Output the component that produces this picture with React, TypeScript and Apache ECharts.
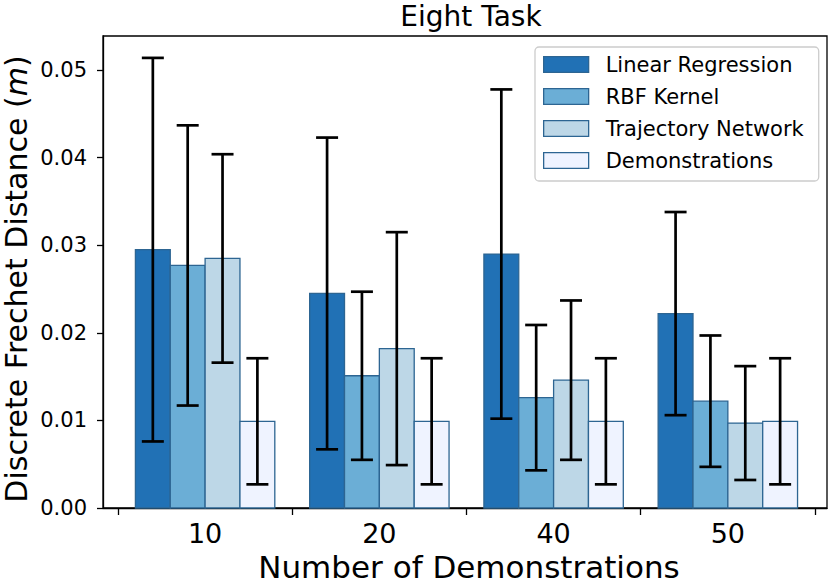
import React, { useEffect, useRef } from "react";
import * as echarts from "echarts";

const categories = ["10", "20", "40", "50"];
const methods = ["Linear Regression", "RBF Kernel", "Trajectory Network", "Demonstrations"];
const colors = ["#2171b5", "#6baed6", "#bdd7e7", "#eff3ff"];

const linearMean = [0.0295, 0.0245, 0.029, 0.0222];
const linearStd = [0.0219, 0.0178, 0.0188, 0.0116];
const rbfMean = [0.0277, 0.0151, 0.0126, 0.0122];
const rbfStd = [0.016, 0.0096, 0.0083, 0.0075];
const trajMean = [0.0285, 0.0182, 0.0146, 0.0097];
const trajStd = [0.0119, 0.0133, 0.0091, 0.0065];
const demoMean = [0.0099, 0.0099, 0.0099, 0.0099];
const demoStd = [0.0072, 0.0072, 0.0072, 0.0072];

const yTicks = [0, 0.01, 0.02, 0.03, 0.04, 0.05];
const xTickPositions = [-0.5, 0.5, 1.5, 2.5, 3.5];

const means = [linearMean, rbfMean, trajMean, demoMean];
const stds = [linearStd, rbfStd, trajStd, demoStd];

const BAR_W = 0.2;
const FONT = "DejaVu Sans";
const EDGE = "#2d6592";

export default function App() {
  const ref = useRef<HTMLDivElement>(null);
  useEffect(() => {
    document.body.style.margin = "0";
    const chart = echarts.init(ref.current!, null, { renderer: "svg" });
    const barSeries: any[] = [];
    const errSeries: any[] = [];
    methods.forEach((name, j) => {
      const offset = (j - 1.5) * BAR_W;
      const data = categories.map((_, i) => [i + offset, means[j][i], stds[j][i]]);
      barSeries.push({
        type: "custom",
        name,
        data,
        z: 2,
        itemStyle: { color: colors[j], borderColor: EDGE },
        encode: { x: 0, y: 1 },
        renderItem: (params: any, api: any) => {
          const x = api.value(0);
          const y = api.value(1);
          const tl = api.coord([x - BAR_W / 2, y]);
          const br = api.coord([x + BAR_W / 2, 0]);
          return {
            type: "rect",
            shape: { x: tl[0], y: tl[1], width: br[0] - tl[0], height: br[1] - tl[1] },
            style: { fill: colors[j], stroke: EDGE, lineWidth: 1.3 },
          };
        },
      });
      errSeries.push({
        type: "custom",
        name: name + " error",
        data,
        z: 5,
        encode: { x: 0, y: [1] },
        renderItem: (params: any, api: any) => {
          const x = api.value(0);
          const y = api.value(1);
          const s = api.value(2);
          const top = api.coord([x, y + s]);
          const bot = api.coord([x, y - s]);
          const cap = 11;
          const st = { stroke: "#000", lineWidth: 2.7 };
          return {
            type: "group",
            children: [
              { type: "line", shape: { x1: top[0], y1: top[1], x2: bot[0], y2: bot[1] }, style: st },
              { type: "line", shape: { x1: top[0] - cap, y1: top[1], x2: top[0] + cap, y2: top[1] }, style: st },
              { type: "line", shape: { x1: bot[0] - cap, y1: bot[1], x2: bot[0] + cap, y2: bot[1] }, style: st },
            ],
          };
        },
      });
    });

    chart.setOption({
      animation: false,
      title: {
        text: "Eight Task",
        left: 466,
        textAlign: "center",
        top: -3,
        textStyle: { fontFamily: FONT, fontSize: 28, fontWeight: "normal", color: "#000" },
      },
      grid: {
        left: 103,
        top: 36,
        right: 3,
        bottom: 77,
        containLabel: false,
        outerBoundsMode: "none",
        show: true,
        borderColor: "#000",
        borderWidth: 1.3,
        backgroundColor: "transparent",
      },
      legend: {
        left: 535,
        top: 47,
        orient: "vertical",
        itemWidth: 45,
        itemHeight: 15.6,
        itemGap: 11,
        padding: [7, 15, 10, 8],
        backgroundColor: "rgba(255,255,255,0.8)",
        borderColor: "#cccccc",
        borderWidth: 1.3,
        borderRadius: 4,
        textStyle: { fontFamily: FONT, fontSize: 21, lineHeight: 21, color: "#000", padding: [0, 0, 0, 12] },
        data: methods.map((m, j) => ({
          name: m,
          icon: "rect",
          itemStyle: { color: colors[j], borderColor: EDGE, borderWidth: 1.3 },
        })),
      },
      xAxis: {
        type: "value",
        min: -0.586,
        max: 3.569,
        name: "Number of Demonstrations",
        nameLocation: "middle",
        nameGap: 42,
        nameTextStyle: { fontFamily: FONT, fontSize: 31, color: "#000", padding: [0, 0, 0, 8] },
        axisLine: { show: true, onZero: false, lineStyle: { color: "#000", width: 1.3 } },
        axisTick: { show: true, length: 7, lineStyle: { color: "#000", width: 1.3 }, customValues: xTickPositions },
        axisLabel: {
          customValues: [0, 1, 2, 3],
          formatter: (v: number) => categories[Math.round(v)] ?? "",
          fontFamily: FONT,
          fontSize: 27,
          color: "#000",
          margin: 12,
        },
        splitLine: { show: false },
      },
      yAxis: {
        type: "value",
        min: 0,
        max: 0.0539,
        name: "Discrete Frechet Distance ({i|m})",
        nameLocation: "middle",
        nameGap: 72,
        nameMoveOverlap: false,
        nameTextStyle: {
          fontFamily: FONT,
          fontSize: 30,
          lineHeight: 30,
          color: "#000",
          padding: [0, 14, 0, 0],
          rich: { i: { fontFamily: FONT, fontSize: 30, lineHeight: 30, fontStyle: "italic", color: "#000" } },
        },
        axisLine: { show: true, onZero: false, lineStyle: { color: "#000", width: 1.3 } },
        axisTick: { show: true, length: 6, lineStyle: { color: "#000", width: 1.3 }, customValues: yTicks },
        axisLabel: {
          customValues: yTicks,
          formatter: (v: number) => v.toFixed(2),
          fontFamily: FONT,
          fontSize: 21,
          color: "#000",
          margin: 16,
        },
        splitLine: { show: false },
      },
      series: [...barSeries, ...errSeries],
    });
    return () => chart.dispose();
  }, []);
  return <div ref={ref} style={{ position: "absolute", left: 0, top: 0, width: 830, height: 585 }} />;
}
